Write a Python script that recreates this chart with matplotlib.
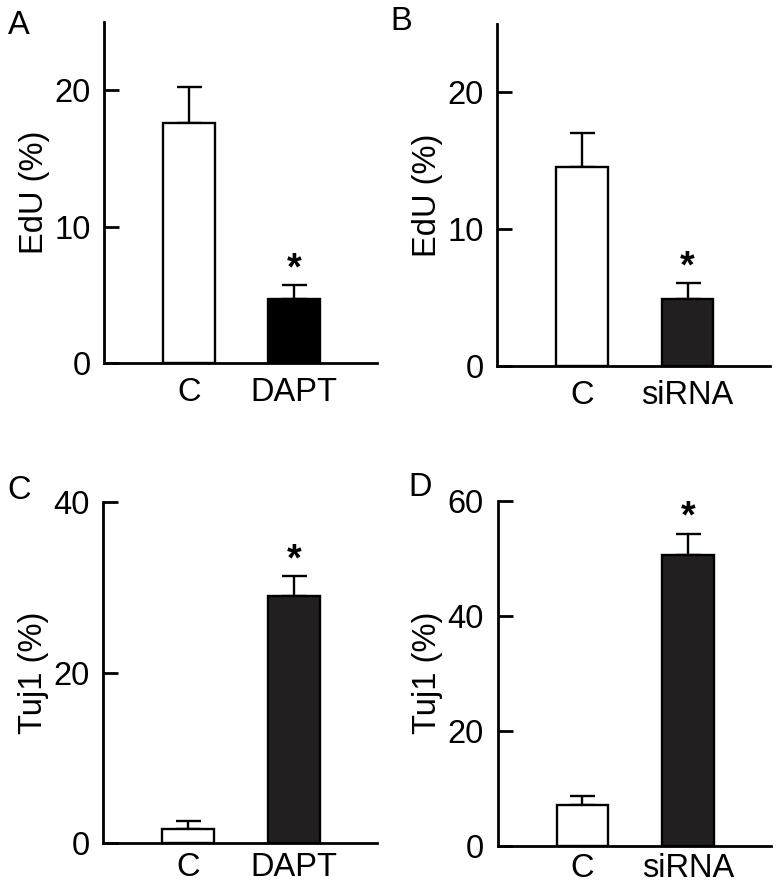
import matplotlib
matplotlib.use("Agg")
import matplotlib.pyplot as plt

plt.rcParams["font.family"] = ["Liberation Sans", "DejaVu Sans"]

# panel A
a_groups = ["C", "DAPT"]
a_means = [17.6, 4.7]
a_errs = [2.6, 1.0]

# panel B
b_groups = ["C", "siRNA"]
b_means = [14.55, 4.9]
b_errs = [2.5, 1.15]

# panel C
c_groups = ["C", "DAPT"]
c_means = [1.6, 29.0]
c_errs = [0.95, 2.3]

# panel D
d_groups = ["C", "siRNA"]
d_means = [7.1, 50.6]
d_errs = [1.6, 3.6]

FS = 23.5


def draw_panel(ax, groups, means, errs, ymax, yticks, ylabel, fill, sig=1, xpad=10):
    x = [1, 2]
    colors = ["white", fill]
    ax.bar(x, means, width=0.49, color=colors, edgecolor="black", linewidth=1.7, zorder=2)
    ax.errorbar(x, means, yerr=[[0, 0], errs], fmt="none", ecolor="black",
                elinewidth=1.7, capsize=9, capthick=1.7, zorder=1)
    top = means[sig] + errs[sig]
    ax.annotate("*", xy=(x[sig], top), xytext=(0, 4.5), textcoords="offset points",
                ha="center", va="baseline", fontsize=27, fontweight="bold")
    ax.set_xlim(0.2, 2.78)
    ax.set_ylim(0, ymax)
    ax.set_yticks(yticks)
    ax.set_xticks(x)
    ax.set_xticklabels(groups)
    for s in ["top", "right"]:
        ax.spines[s].set_visible(False)
    for s in ["left", "bottom"]:
        ax.spines[s].set_linewidth(2.0)
    ax.tick_params(axis="y", direction="in", length=11, width=2.0, pad=10, labelsize=FS)
    ax.tick_params(axis="x", length=0, pad=xpad, labelsize=FS)
    ax.set_ylabel(ylabel, fontsize=FS, labelpad=3)


fig = plt.figure(figsize=(7.8, 8.88), dpi=100)
ax_a = fig.add_axes([0.1337, 0.5909, 0.3492, 0.3847])
ax_b = fig.add_axes([0.6376, 0.5878, 0.3496, 0.3852])
ax_c = fig.add_axes([0.1324, 0.0510, 0.3505, 0.3833])
ax_d = fig.add_axes([0.6381, 0.0476, 0.3504, 0.3885])

draw_panel(ax_a, a_groups, a_means, a_errs, 25, [0, 10, 20], "EdU (%)", "#000000")
draw_panel(ax_b, b_groups, b_means, b_errs, 25, [0, 10, 20], "EdU (%)", "#231f20")
draw_panel(ax_c, c_groups, c_means, c_errs, 40, [0, 20, 40], "Tuj1 (%)", "#231f20", xpad=7)
draw_panel(ax_d, d_groups, d_means, d_errs, 60, [0, 20, 40, 60], "Tuj1 (%)", "#231f20", xpad=5)

# panel letters, placed in pixel positions of the figure
letters = ["A", "B", "C", "D"]
letter_px = [(8, 10), (390, 6), (7, 475), (408, 472)]
for lab, (px, py) in zip(letters, letter_px):
    fig.text(px / 780, 1 - py / 888, lab, fontsize=FS, ha="left", va="top")

fig.savefig("out.png", dpi=100)
